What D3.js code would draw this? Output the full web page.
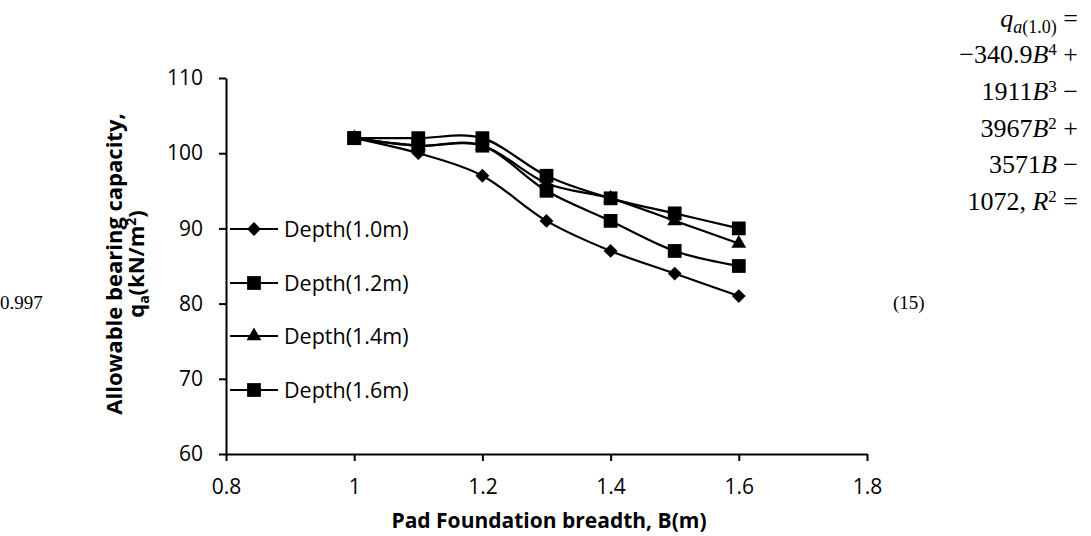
<!DOCTYPE html>
<meta charset="utf-8">
<title>Allowable bearing capacity</title>
<style>
body { margin: 0; background: #fff; }
svg { display: block; }
.axis path, .axis line { stroke: #000; stroke-width: 2px; }
.axis text { font-family: "Open Sans", sans-serif; font-size: 21px; fill: #000; }
.title { font-family: "Open Sans", sans-serif; font-weight: bold; }
.legend text { font-family: "Open Sans", sans-serif; font-size: 21.5px; }
.eq { font-family: "Liberation Serif", "DejaVu Serif", serif; font-size: 26px; }
.side { font-family: "Liberation Serif", serif; font-size: 19px; }
</style>
<svg width="1091" height="536"></svg>
<script src="https://d3js.org/d3.v7.min.js"></script>
<script>

var breadth = [1.0, 1.1, 1.2, 1.3, 1.4, 1.5, 1.6];
var depth10 = [102, 100, 97, 91, 87, 84, 81];
var depth12 = [102, 101, 101, 95, 91, 87, 85];
var depth14 = [102, 101, 101, 96, 94, 91, 88];
var depth16 = [102, 102, 102, 97, 94, 92, 90];
var seriesNames = ["Depth(1.0m)", "Depth(1.2m)", "Depth(1.4m)", "Depth(1.6m)"];
var xTicks = [0.8, 1.0, 1.2, 1.4, 1.6, 1.8];
var xTickLabels = ["0.8", "1", "1.2", "1.4", "1.6", "1.8"];
var yTicks = [60, 70, 80, 90, 100, 110];

var svg = d3.select("svg");

var x = d3.scaleLinear().domain([0.8, 1.8]).range([226, 867]),
    y = d3.scaleLinear().domain([60, 110]).range([454, 78]);

svg.append("g")
    .attr("class", "axis")
    .attr("transform", "translate(0," + y(60) + ")")
    .call(d3.axisBottom(x).tickValues(xTicks).tickSize(7).tickSizeOuter(0)
        .tickFormat(function(d, i) { return xTickLabels[i]; }))
    .selectAll("text").attr("y", 33).attr("dy", "0.35em");

svg.append("g")
    .attr("class", "axis")
    .attr("transform", "translate(" + x(0.8) + ",0)")
    .call(d3.axisLeft(y).tickValues(yTicks).tickSize(7).tickSizeOuter(0))
    .selectAll("text").attr("x", -23);

var diamond = { draw: function(ctx, size) {
  var r = Math.sqrt(size / 2);
  ctx.moveTo(0, -r); ctx.lineTo(r, 0); ctx.lineTo(0, r); ctx.lineTo(-r, 0); ctx.closePath();
}};

var series = [
  {name: seriesNames[0], values: depth10, symbol: diamond, size: 95},
  {name: seriesNames[1], values: depth12, symbol: d3.symbolSquare, size: 190},
  {name: seriesNames[2], values: depth14, symbol: d3.symbolTriangle, size: 95},
  {name: seriesNames[3], values: depth16, symbol: d3.symbolSquare, size: 190}
];

var line = d3.line()
    .x(function(d) { return x(d[0]); })
    .y(function(d) { return y(d[1]); })
    .curve(d3.curveCatmullRom.alpha(0));

series.forEach(function(s) {
  var pts = breadth.map(function(b, i) { return [b, s.values[i]]; });
  svg.append("path")
      .attr("d", line(pts))
      .attr("fill", "none")
      .attr("stroke", "#000")
      .attr("stroke-width", 2.2);
  svg.append("g").selectAll("path")
      .data(pts)
      .enter().append("path")
      .attr("transform", function(d) { return "translate(" + x(d[0]) + "," + y(d[1]) + ")"; })
      .attr("d", d3.symbol().type(s.symbol).size(s.size))
      .attr("fill", "#000");
});

// legend
var legend = svg.append("g").attr("class", "legend");
var legendY = [229, 283, 336, 390];
series.forEach(function(s, i) {
  var g = legend.append("g").attr("transform", "translate(0," + legendY[i] + ")");
  g.append("line").attr("x1", 230).attr("x2", 278).attr("stroke", "#000").attr("stroke-width", 2.2);
  g.append("path").attr("transform", "translate(254,0)")
      .attr("d", d3.symbol().type(s.symbol).size(s.size));
  g.append("text").attr("x", 284).attr("dy", "0.36em").text(s.name);
});

// axis titles
svg.append("text")
    .attr("class", "title")
    .attr("font-size", "21px")
    .attr("text-anchor", "middle")
    .attr("x", 549).attr("y", 528)
    .text("Pad Foundation breadth, B(m)");

var yt = svg.append("text")
    .attr("class", "title")
    .attr("font-size", "22px")
    .attr("text-anchor", "middle")
    .attr("transform", "translate(125,264) rotate(-90)");
yt.append("tspan").attr("x", 0).attr("y", -3).text("Allowable bearing capacity,");
var t2 = yt.append("tspan").attr("x", 0).attr("y", 19);
t2.append("tspan").text("q");
t2.append("tspan").attr("font-size", "14px").attr("dy", 5).text("a");
t2.append("tspan").attr("dy", -5).text("(kN/m");
t2.append("tspan").attr("font-size", "14px").attr("dy", -8).text("2");
t2.append("tspan").attr("dy", 8).text(")");

// equation text around the figure
var eq = svg.append("g").attr("class", "eq").attr("text-anchor", "end");
function eqLine(yy, parts) {
  var t = eq.append("text").attr("x", 1078).attr("y", yy);
  parts.forEach(function(p) {
    var s = t.append("tspan").text(p[0]);
    if (p[1] === "i") s.attr("font-style", "italic");
    if (p[1] === "sup") s.attr("font-size", "17px").attr("dy", -8);
    if (p[1] === "sub") s.attr("font-size", "18px").attr("dy", 6).attr("font-style", "italic");
    if (p[1] === "subn") s.attr("font-size", "18px");
    if (p[2]) s.attr("dy", p[2]);
  });
}
eqLine(27, [["q", "i"], ["a", "sub"], ["(1.0)", "subn"], [" =", "", -6]]);
eqLine(63, [["\u2212340.9"], ["B", "i"], ["4", "sup"], [" +", "", 8]]);
eqLine(100, [["1911"], ["B", "i"], ["3", "sup"], [" \u2212", "", 8]]);
eqLine(137, [["3967"], ["B", "i"], ["2", "sup"], [" +", "", 8]]);
eqLine(173, [["3571"], ["B", "i"], [" \u2212"]]);
eqLine(210, [["1072,  "], ["R", "i"], ["2", "sup"], [" =", "", 8]]);

svg.append("text").attr("class", "side").attr("x", 0).attr("y", 309).text("0.997");
svg.append("text").attr("class", "side").attr("x", 893).attr("y", 309).text("(15)");

</script>
